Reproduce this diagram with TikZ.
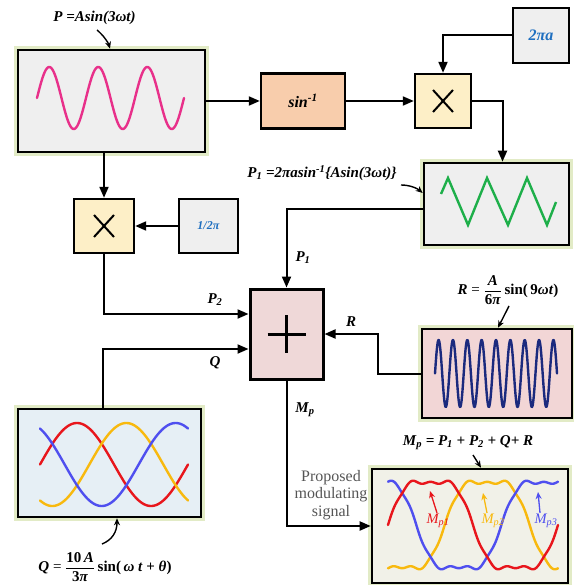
\documentclass[tikz,border=0pt]{standalone}
\usepackage{fontspec}
\setmainfont{Liberation Serif}
\usetikzlibrary{arrows.meta,calc}
\definecolor{boxgray}{HTML}{EFEFEF}
\definecolor{glowc}{HTML}{E2EBC6}
\definecolor{peach}{HTML}{F8CDAC}
\definecolor{multc}{HTML}{FDEFC7}
\definecolor{sumc}{HTML}{EFD8D8}
\definecolor{rpink}{HTML}{F2D6D6}
\definecolor{qblue}{HTML}{E6EFF5}
\definecolor{mivory}{HTML}{F1F1E8}
\definecolor{bluet}{HTML}{1F6FC0}
\definecolor{pinkc}{HTML}{E8308A}
\definecolor{greenc}{HTML}{1EAF4A}
\definecolor{navyc}{HTML}{1B2A7E}
\definecolor{redc}{HTML}{E8161C}
\definecolor{yelc}{HTML}{F8B90E}
\definecolor{bluec}{HTML}{4F4FEF}
\definecolor{graytxt}{HTML}{555555}
\newcommand\myBI[1]{\textbf{\textit{#1}}}
\begin{document}
\begin{tikzpicture}[x=1pt,y=-1pt,
  every node/.style={font=\fontsize{15}{17}\selectfont, inner sep=0pt},
  sigbox/.style={draw=black, line width=2.6pt, fill=boxgray,
     preaction={draw=glowc, line width=8pt}},
  opbox/.style={draw=black, line width=2.4pt},
  arr/.style={draw=black, line width=2pt, -{Triangle[length=11pt,width=9pt]}},
  ptr/.style={draw=black, line width=1.4pt, -{Stealth[length=7pt,width=6pt]}},
  curve/.style={line width=2.4pt, line join=round, line cap=round},
  xline/.style={line width=2pt}]
\useasboundingbox (0,0) rectangle (573,585);

% ---------- boxes ----------
\node[sigbox, minimum width=187pt, minimum height=102pt] (boxP) at (111.5,101) {};
\node[opbox, fill=peach, minimum width=84pt, minimum height=55pt,
      font=\fontsize{16}{18}\selectfont] (sinv) at (303,101) {\myBI{sin\textsuperscript{-1}}};
\node[opbox, fill=multc, minimum width=56pt, minimum height=54pt] (m1) at (443,101) {};
\node[opbox, fill=boxgray, minimum width=56pt, minimum height=55pt,
      font=\fontsize{16}{18}\selectfont] (twopia) at (541,35.5) {\color{bluet}\myBI{2πa}};
\node[sigbox, minimum width=145pt, minimum height=82pt] (tri) at (496.5,204) {};
\node[opbox, fill=multc, minimum width=60pt, minimum height=54pt] (m2) at (104,226) {};
\node[opbox, fill=boxgray, minimum width=59pt, minimum height=54pt,
      font=\fontsize{12}{14}\selectfont] (half) at (208.5,226) {\color{bluet}\myBI{1/2π}};
\node[draw=black, line width=3pt, fill=sumc, minimum width=73pt, minimum height=90pt] (sum) at (286.5,334) {};
\node[sigbox, fill=rpink, minimum width=150pt, minimum height=89pt] (rbox) at (497,373.5) {};
\node[sigbox, fill=qblue, minimum width=183pt, minimum height=108pt] (qbox) at (109.5,463) {};
\node[sigbox, fill=mivory, minimum width=196pt, minimum height=114pt] (mbox) at (470,526) {};

% ---------- symbols ----------
\draw[xline] ($(m1.center)+(-10,-11)$) -- ($(m1.center)+(10,11)$);
\draw[xline] ($(m1.center)+(10,-11)$) -- ($(m1.center)+(-10,11)$);
\draw[xline] ($(m2.center)+(-10,-11)$) -- ($(m2.center)+(10,11)$);
\draw[xline] ($(m2.center)+(10,-11)$) -- ($(m2.center)+(-10,11)$);
\draw[line width=3pt] ($(sum.center)+(-19,0)$) -- ($(sum.center)+(19,0)$);
\draw[line width=3pt] ($(sum.center)+(0,-19)$) -- ($(sum.center)+(0,19)$);

% ---------- waveforms ----------
\draw[pinkc, curve] plot[domain=0:1080, samples=220] ({37+\x*0.136111},{98-31*sin(\x)});
\draw[greenc, curve, line cap=butt, line join=miter] (441,194) -- (448,178) -- (468,225) -- (487,178) -- (508,225) -- (527,178) -- (547,225) -- (556,202);
\draw[navyc, curve] plot[domain=0:3060, samples=500] ({435+\x*0.039869},{373.5-33.5*sin(\x)});
\draw[redc, curve] plot[domain=0:360, samples=120] ({40+\x*0.41111},{464.5-41.5*sin(\x)});
\draw[yelc, curve] plot[domain=0:360, samples=120] ({40+\x*0.41111},{464.5-41.5*sin(\x-120)});
\draw[bluec, curve] plot[domain=0:360, samples=120] ({40+\x*0.41111},{464.5-41.5*sin(\x+120)});
\draw[yelc, curve] plot[domain=0:360, samples=300] ({388+\x*0.47222},{525-50*(sin(\x-120)+sin(3*\x)/6+0.03*sin(9*\x))});
\draw[bluec, curve] plot[domain=0:360, samples=300] ({388+\x*0.47222},{525-50*(sin(\x+120)+sin(3*\x)/6+0.03*sin(9*\x))});
\draw[redc, curve] plot[domain=0:360, samples=300] ({388+\x*0.47222},{525-50*(sin(\x)+sin(3*\x)/6+0.03*sin(9*\x))});

% ---------- connectors ----------
\draw[arr] (boxP.east) -- (sinv.west);
\draw[arr] (sinv.east) -- (m1.west);
\draw[arr] (twopia.west) -| (m1.north);
\draw[arr] (m1.east) -| ($(tri.north)+(6,0)$);
\draw[arr] ($(tri.west)+(0,5)$) -| (sum.north);
\draw[arr] (m2.north |- boxP.south) -- (m2.north);
\draw[arr] (half.west) -- (m2.east);
\draw[arr] (m2.south) |- ($(sum.west)+(0,-20)$);
\draw[arr] ($(qbox.north)+(-6.5,0)$) |- ($(sum.west)+(0,15)$);
\draw[arr] (rbox.west) -- ++(-43,0) |- (sum.east);
\draw[arr] (sum.south) |- (mbox.west);

% ---------- connector labels ----------
\node (lP1) at (303,258) {\myBI{P\textsubscript{1}}};
\node (lP2) at (215,300) {\myBI{P\textsubscript{2}}};
\node (lQ) at (215,363) {\myBI{Q}};
\node (lR) at (351,322) {\myBI{R}};
\node (lMp) at (305,410) {\myBI{M\textsubscript{p}}};
\node[align=center, text=graytxt, font=\fontsize{16}{17.5}\selectfont] (prop) at (331,495) {Proposed\\modulating\\signal};

% ---------- formulas ----------
\node (plab) at (94.5,18) {\myBI{P =Asin(3ωt)}};
\node (p1lab) at (322,173) {\myBI{P\textsubscript{1} =2πasin\textsuperscript{-1}\{Asin(3ωt)\}}};
\node (rlab) at (508,290) {\myBI{R} = $\displaystyle\frac{\hbox{\myBI{A}}}{\hbox{\textbf{6}\myBI{π}}}$\,\textbf{sin(\,9}\myBI{ωt}\textbf{)}};
\node (mplab) at (468,443) {\myBI{M\textsubscript{p} = P\textsubscript{1} + P\textsubscript{2} + Q+ R}};
\node (qlab) at (105,567) {\myBI{Q} = $\displaystyle\frac{\hbox{\textbf{10}\,\myBI{A}}}{\hbox{\textbf{3}\myBI{π}}}$\,\textbf{sin(}\,\myBI{ω t} \textbf{+} \myBI{θ}\textbf{)}};

\coordinate (ptail) at (97,30);
\coordinate (p1tail) at (401,185);
\coordinate (rtail) at (509,306);
\coordinate (mptail) at (473,455);
\coordinate (qtail) at (102,544);
\draw[ptr] (ptail) .. controls (103,35) and (108,42) .. ($(boxP.north)+(-1.5,0)$);
\draw[ptr] (p1tail) .. controls (411,185) and (418,189) .. ($(tri.west)+(0,-11)$);
\draw[ptr] (rtail) -- ($(rbox.north)+(1,0)$);
\draw[ptr] (mptail) -- ($(mbox.north)+(11,0)$);
\draw[ptr] (qtail) .. controls (112,540) and (117,532) .. ($(qbox.south)+(7.5,0)$);

% ---------- Mp labels ----------
\node[text=redc, font=\fontsize{14.5}{16}\selectfont\itshape] (lm1) at (438,521) {M\textsubscript{p1}};
\node[text=yelc, font=\fontsize{14.5}{16}\selectfont\itshape] (lm2) at (493,521) {M\textsubscript{p2}};
\node[text=bluec, font=\fontsize{14.5}{16}\selectfont\itshape] (lm3) at (546,521) {M\textsubscript{p3}};
\coordinate (t1) at (430,491);
\coordinate (t2) at (483,493);
\coordinate (t3) at (538,492);
\draw[ptr, draw=redc, line width=1.3pt] ($(lm1.north)+(-1,-1)$) -- (t1);
\draw[ptr, draw=yelc, line width=1.3pt] ($(lm2.north)+(-6,-1)$) -- (t2);
\draw[ptr, draw=bluec, line width=1.3pt] ($(lm3.north)+(-6,-1)$) -- (t3);
\end{tikzpicture}
\end{document}
